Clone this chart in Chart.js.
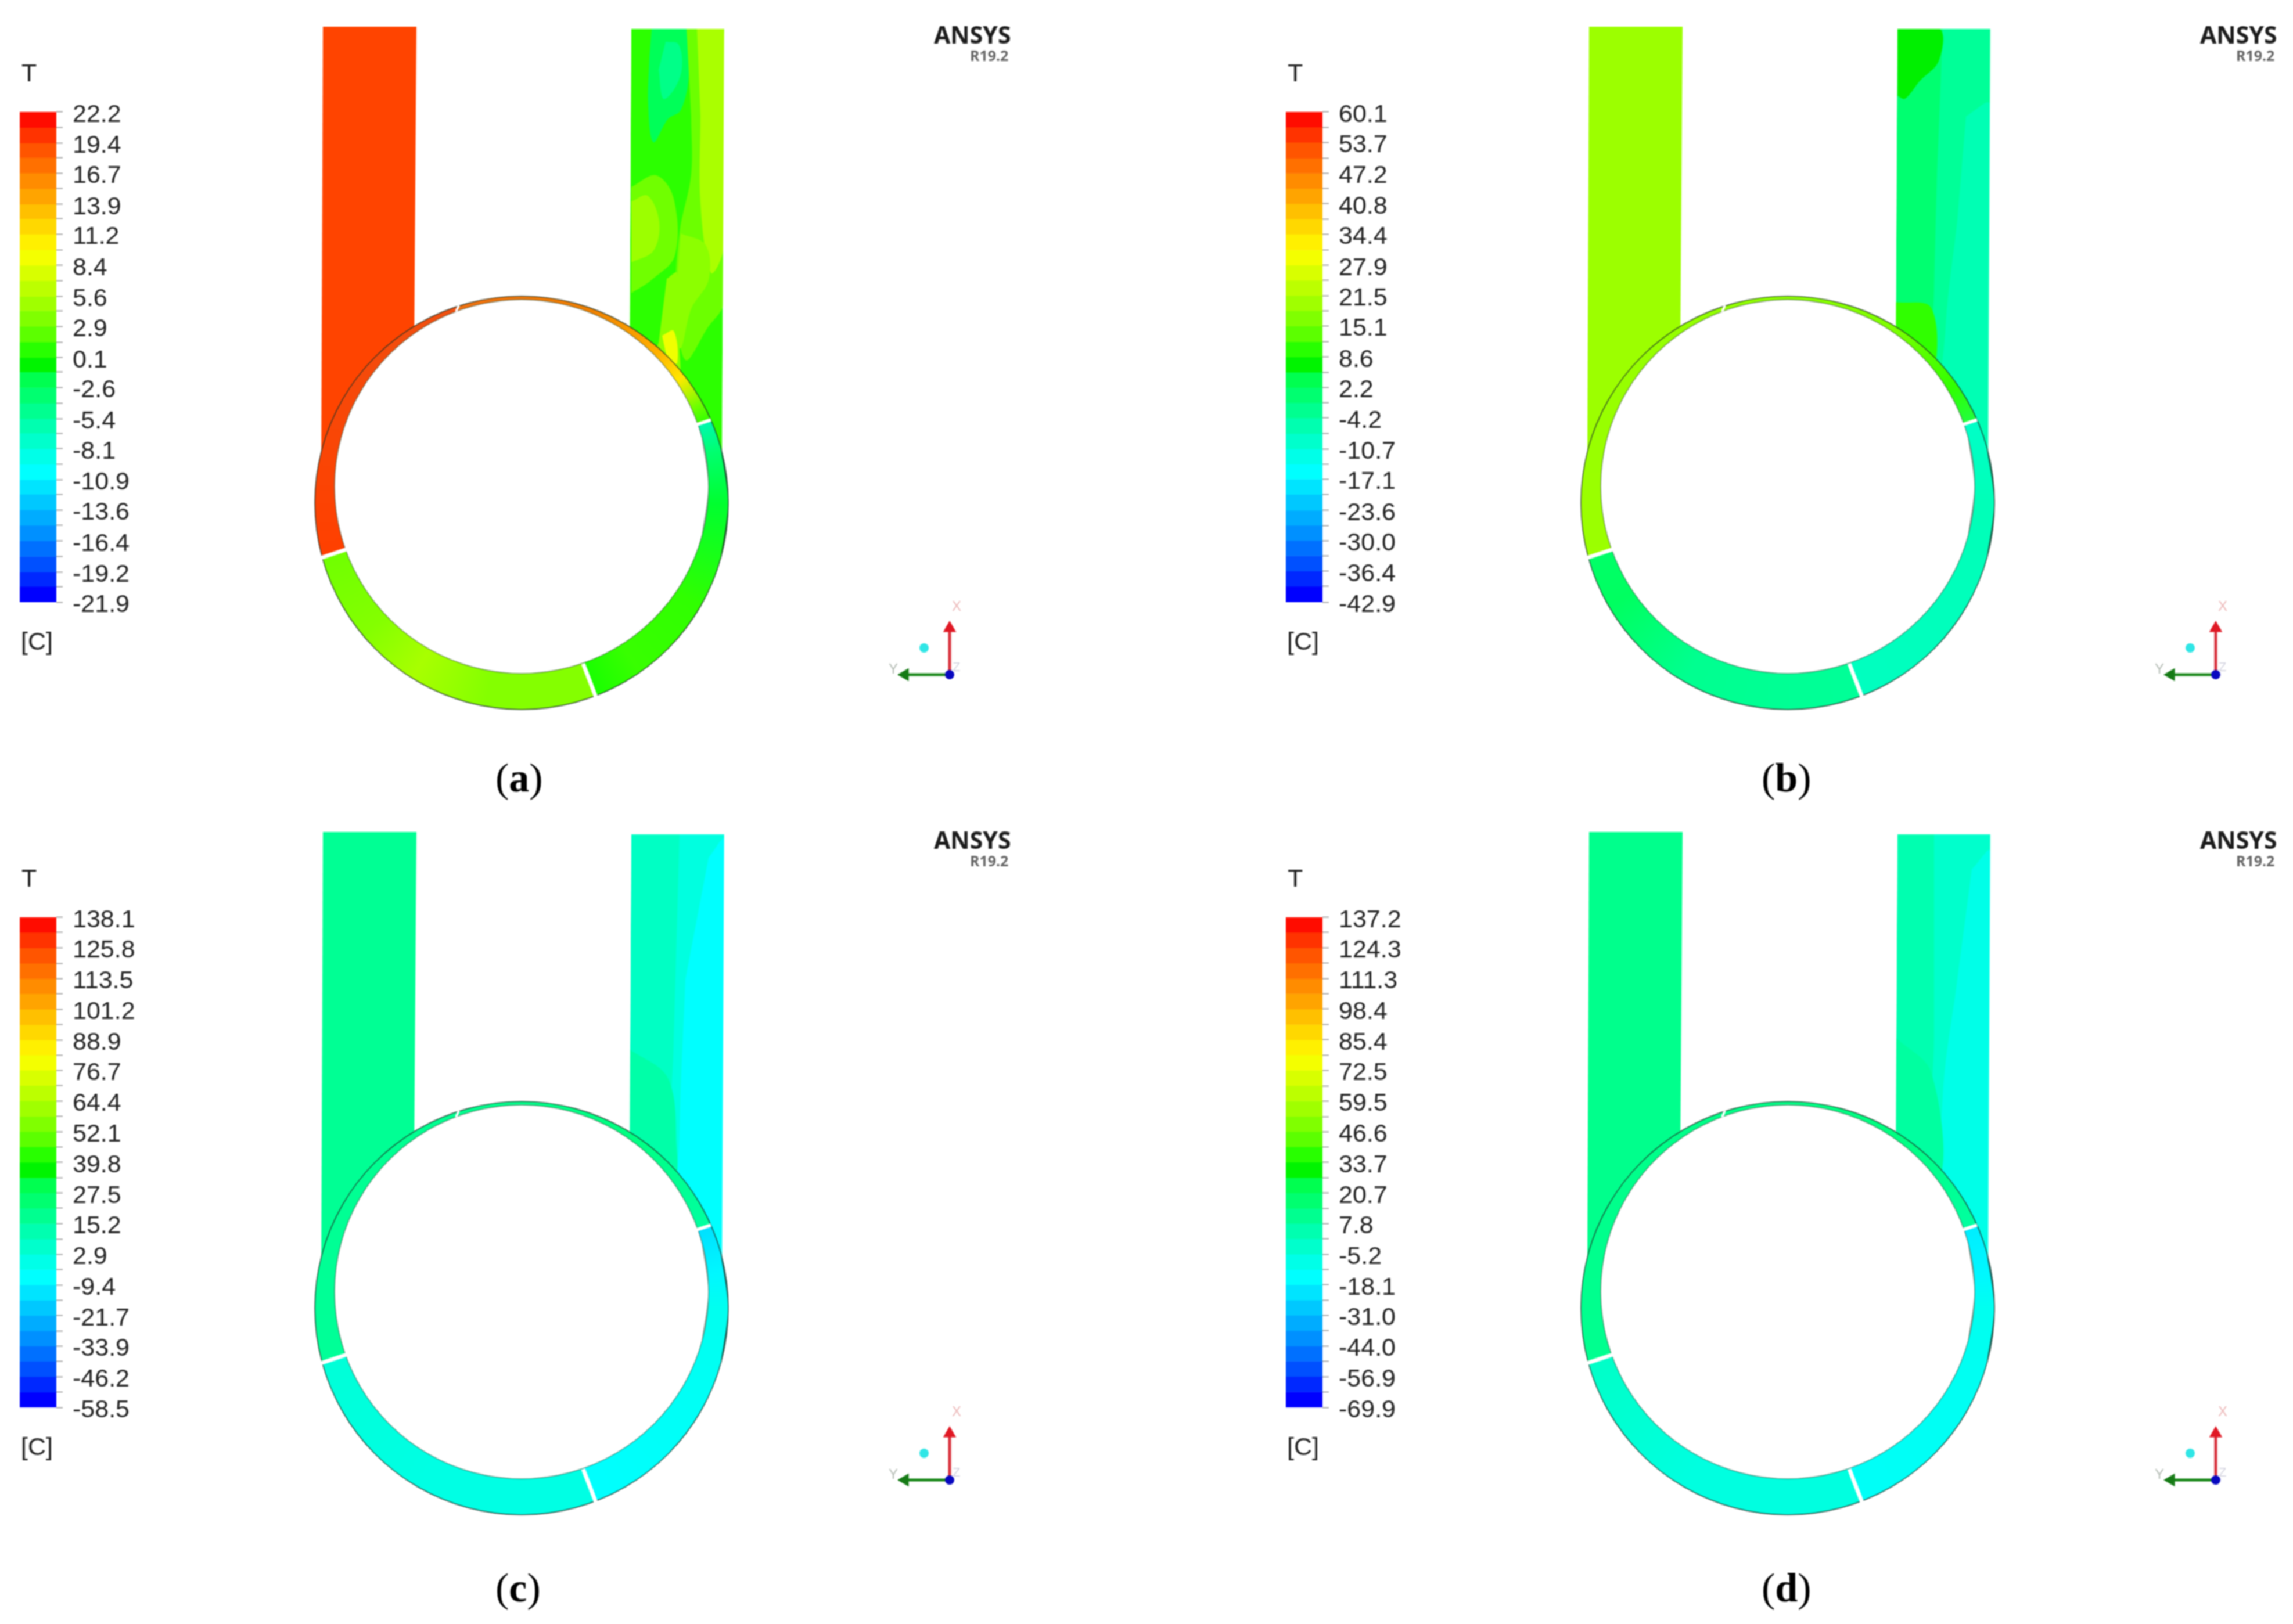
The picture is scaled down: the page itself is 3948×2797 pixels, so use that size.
<!DOCTYPE html>
<html><head><meta charset="utf-8">
<script src="https://cdn.jsdelivr.net/npm/chart.js@4"></script>
<style>
html,body{margin:0;padding:0;background:#fff;width:3948px;height:2797px;overflow:hidden}
canvas{position:absolute;filter:blur(1.3px)}
.t{position:absolute;white-space:nowrap;line-height:1;filter:blur(.9px)}
</style></head><body>
<script>
// Colour-bar boundaries read from the legends (top to bottom)
const levelsA=[22.2,20.8,19.4,18.1,16.7,15.3,13.9,12.6,11.2,9.8,8.4,7.0,5.6,4.3,2.9,1.5,0.1,-1.2,-2.6,-4.0,-5.4,-6.7,-8.1,-9.5,-10.9,-12.2,-13.6,-15.0,-16.4,-17.8,-19.2,-20.5,-21.9];
const levelsB=[60.1,56.9,53.7,50.4,47.2,44.0,40.8,37.6,34.4,31.1,27.9,24.7,21.5,18.3,15.1,11.8,8.6,5.4,2.2,-1.0,-4.2,-7.5,-10.7,-13.9,-17.1,-20.3,-23.6,-26.8,-30.0,-33.2,-36.4,-39.6,-42.9];
const levelsC=[138.1,132.0,125.8,119.6,113.5,107.4,101.2,95.0,88.9,82.8,76.7,70.6,64.4,58.2,52.1,46.0,39.8,33.6,27.5,21.4,15.2,9.0,2.9,-3.2,-9.4,-15.6,-21.7,-27.8,-33.9,-40.0,-46.2,-52.4,-58.5];
const levelsD=[137.2,130.8,124.3,117.8,111.3,104.9,98.4,91.9,85.4,79.0,72.5,66.0,59.5,53.0,46.6,40.2,33.7,27.2,20.7,14.2,7.8,1.3,-5.2,-11.7,-18.1,-24.6,-31.0,-37.5,-44.0,-50.4,-56.9,-63.4,-69.9];
const levelColors=["#ff0c00","#ff3300","#ff5500","#ff7000","#ff8c00","#ffa400","#ffc000","#ffd800","#fff000","#f4ff00","#d8ff00","#bcff00","#a0ff00","#80ff00","#5cff00","#28ff00","#00f400","#00ff50","#00ff70","#00ff90","#00ffb0","#00ffcc","#00ffe8","#00ffff","#00e4ff","#00c8ff","#00acff","#0090ff","#0070ff","#0050ff","#0028ff","#0000ff"];
const panelLabels=["a","b","c","d"];

// Outline of the duct walls
const leftDuct=[[556,46],[717,46],[713,600],[553,800]];
const rightDuct=[[1087,50],[1247,50],[1243,790],[1084,600]];
const ductMasks=[[[1247,0],[1768,0],[1768,800],[1243,800]],[[950,0],[1768,0],[1768,50],[950,50]],[[950,0],[1087,0],[1084,620],[950,620]]];
const rimX=[.9659,1,.9659,.866,.7071,.5,.2588,0,-.2588,-.5,-.7071,-.866,-.9659,-1,-.9659,-.866,-.7071,-.5,-.2588,0,.2588,.5,.7071,.866,.9659,1,.9659];
const rimY=[-.2588,0,.2588,.5,.7071,.866,.9659,1,.9659,.866,.7071,.5,.2588,0,-.2588,-.5,-.7071,-.866,-.9659,-1,-.9659,-.866,-.7071,-.5,-.2588,0,.2588];
const outerCircle=[898,866,356];
const innerCircle=[898,838,322];
const gapLines=[[[552,961],[597,946],7],[[1004,1143],[1027,1203],7],[[1197,732],[1224,723],6],[[785,537],[790,526],4]];

const leftColors=["#ff4400","#9cff00","#00ff94","#00ff8c"];
const rightBase=["#2cff00","#00ff70","#00ffc4","#00ffb0"];

// Temperature contour bands in the outlet duct
const contoursA=[
 ["#00ff58",[[1122,50],[1182,50],[1186,130],[1172,190],[1150,205],[1125,245],[1116,180],[1118,100]]],
 ["#00ff88",[[1146,72],[1168,76],[1174,118],[1160,155],[1142,170],[1134,120]]],
 ["#6cff00",[[1182,50],[1247,50],[1246,520],[1218,565],[1180,620],[1164,510],[1170,400],[1190,300],[1190,200]]],
 ["#aaff00",[[1200,50],[1246,50],[1245,430],[1224,470],[1206,350],[1206,200]]],
 ["#70ff00",[[1087,322],[1130,302],[1160,342],[1162,440],[1122,482],[1087,505]]],
 ["#9cff00",[[1087,347],[1115,337],[1135,382],[1125,432],[1087,452]]],
 ["#8cff00",[[1172,402],[1215,422],[1220,482],[1190,532],[1172,600],[1162,560],[1166,480]]],
 ["#8cff00",[[1148,480],[1166,470],[1170,600],[1168,650],[1128,610],[1134,590]]],
 ["#f0ff00",[[1140,578],[1160,570],[1166,625],[1150,625]]]
];
const contoursB=[
 ["#00ff98",[[1165,50],[1247,50],[1243,790],[1145,790],[1150,500],[1155,300]]],
 ["#00ffb4",[[1205,200],[1246,180],[1243,790],[1165,790],[1170,560],[1190,380]]],
 ["#00f000",[[1087,50],[1160,50],[1158,105],[1125,140],[1100,170],[1087,165]]],
 ["#30ff00",[[1084,520],[1145,530],[1150,640],[1120,620],[1084,565]]]
];
const contoursC=[
 ["#00ffe0",[[1170,50],[1247,50],[1243,790],[1155,790],[1160,400]]],
 ["#00ffff",[[1220,90],[1247,60],[1243,790],[1170,790],[1170,560],[1180,300]]],
 ["#00ffa8",[[1084,420],[1150,470],[1165,590],[1160,640],[1084,580]]]
];
const contoursD=[
 ["#00ffcc",[[1150,50],[1247,50],[1243,790],[1145,790],[1150,400]]],
 ["#00ffe8",[[1215,110],[1247,80],[1243,790],[1165,790],[1165,500],[1190,300]]],
 ["#00ffa0",[[1084,400],[1145,460],[1160,640],[1084,580]]]
];
// Ring colour by clockwise angle (degrees from east)
const ringStopsA=[[0,"#00ff30"],[30,"#30ff00"],[55,"#38ff00"],[69.1,"#18ff00"],[69.1,"#84ff00"],[100,"#84ff00"],[122,"#a8ff00"],[140,"#84ff00"],[164.7,"#70ff00"],[164.7,"#ff4000"],[252,"#f05010"],[252,"#f07010"],[290,"#f08000"],[312,"#ffb000"],[322,"#ffe800"],[331,"#70ff00"],[336.3,"#30ff00"],[336.3,"#00f8b0"],[345,"#00ff70"],[360,"#00ff30"]];
const ringStopsB=[[0,"#00ffb8"],[69.1,"#00ffc0"],[69.1,"#00ff98"],[120,"#00ff90"],[150,"#00ff60"],[164.7,"#00ff68"],[164.7,"#9cff00"],[252,"#94ff00"],[300,"#80ff00"],[325,"#30ff00"],[336.3,"#20ff40"],[336.3,"#00ffc8"],[360,"#00ffb8"]];
const ringStopsC=[[0,"#00fff0"],[69.1,"#00ffff"],[69.1,"#00ffe4"],[120,"#00ffe4"],[164.7,"#00ffd8"],[164.7,"#00ff98"],[252,"#00ff90"],[300,"#00ff80"],[336.3,"#00ffa0"],[336.3,"#00e0ff"],[350,"#00f8ff"],[360,"#00fff0"]];
const ringStopsD=[[0,"#00fff0"],[69.1,"#00fff8"],[69.1,"#00ffe0"],[120,"#00ffe0"],[164.7,"#00ffc8"],[164.7,"#00ff90"],[252,"#00ff88"],[300,"#00ff80"],[336.3,"#00ffa0"],[336.3,"#00eeff"],[350,"#00f8ff"],[360,"#00fff0"]];

// Axis triad
const triadX=[[1635,1162],[1635,1082]];
const triadY=[[1635,1162],[1558,1162]];
const triadOrigin=[[1635,1162]];
const triadSphere=[[1591,1116]];

const allLevels=[levelsA,levelsB,levelsC,levelsD];
const allContours=[contoursA,contoursB,contoursC,contoursD];
const allStops=[ringStopsA,ringStopsB,ringStopsC,ringStopsD];
const offsetsX=[0,2180,0,2180];
const offsetsY=[0,0,1387,1387];
const sansFont='"Liberation Sans",Arial,sans-serif';

const pts=a=>a.map(p=>({x:p[0],y:p[1]}));
const rim=c=>rimX.map((v,i)=>({x:c[0]+c[2]*v,y:c[1]+c[2]*rimY[i]}));

function addCanvas(left,top,w,h){
  const c=document.createElement('canvas');
  c.width=w;c.height=h;c.style.left=left+'px';c.style.top=top+'px';
  c.style.width=w+'px';c.style.height=h+'px';
  document.body.appendChild(c);return c.getContext('2d');
}
function addText(txt,x,y,css){
  const s=document.createElement('span');s.className='t';s.innerHTML=txt;
  s.style.cssText+=`left:${x}px;top:${y}px;`+css;document.body.appendChild(s);
}
function polygon(color,p,tension){
  return {data:pts(p),showLine:true,fill:'shape',backgroundColor:color,borderWidth:0,pointRadius:0,tension:tension};
}
function drawPanel(i){
  const ox=offsetsX[i],oy=offsetsY[i];
  const ds=[];
  ds.push(polygon(leftColors[i],leftDuct,0));
  ds.push(polygon(rightBase[i],rightDuct,0));
  allContours[i].forEach(c=>ds.push(polygon(c[0],c[1],.35)));
  ductMasks.forEach(m=>ds.push(polygon('#fff',m,0)));
  ds.push({data:rim(outerCircle),showLine:true,fill:'shape',borderWidth:0,pointRadius:0,tension:.338,
    backgroundColor:ctx=>{
      const ch=ctx.chart;if(!ch.chartArea)return '#0f0';
      const g=ch.ctx.createConicGradient(0,ch.scales.x.getPixelForValue(outerCircle[0]),ch.scales.y.getPixelForValue(outerCircle[1]));
      allStops[i].forEach(s=>g.addColorStop(s[0]/360,s[1]));
      return g;
    }});
  ds.push({data:rim(innerCircle),showLine:true,fill:'shape',backgroundColor:'#fff',borderColor:'rgba(40,70,50,.55)',borderWidth:1.5,pointRadius:0,tension:.338});
  ds.push({data:rim(outerCircle),showLine:true,fill:false,borderColor:'rgba(30,50,40,.8)',borderWidth:1.6,pointRadius:0,tension:.338});
  gapLines.forEach(g=>ds.push({data:pts([g[0],g[1]]),showLine:true,fill:false,borderColor:'#fff',borderWidth:g[2],pointRadius:0}));
  ds.push({data:pts(triadX),showLine:true,fill:false,borderColor:'#d8303c',borderWidth:5,pointRadius:[0,13],pointStyle:'triangle',pointBackgroundColor:'#e01824',pointBorderWidth:0});
  ds.push({data:pts(triadY),showLine:true,fill:false,borderColor:'#1e8a1e',borderWidth:5,pointRadius:[0,13],pointStyle:'triangle',pointRotation:-90,pointBackgroundColor:'#157a15',pointBorderWidth:0});
  ds.push({data:pts(triadOrigin),pointRadius:8,pointBackgroundColor:'#0808c0',pointBorderWidth:0});
  ds.push({data:pts(triadSphere),pointRadius:8,pointBackgroundColor:'#30e6e6',pointBorderWidth:0});
  ds.forEach((d,k)=>{d.order=-k;d.clip=false;});
  new Chart(addCanvas(ox,oy,1768,1387),{type:'scatter',data:{datasets:ds},options:{
    responsive:false,animation:false,devicePixelRatio:1,
    layout:{padding:0,autoPadding:false},
    plugins:{legend:{display:false},tooltip:{enabled:false}},
    scales:{x:{type:'linear',min:0,max:1768,display:false},y:{type:'linear',min:0,max:1387,reverse:true,display:false}}
  }});
  // colour bar
  const lev=allLevels[i];
  const bars=levelColors.map((c,k)=>({data:[[lev[k+1],lev[k]]],backgroundColor:c,borderWidth:0,barPercentage:1,categoryPercentage:1}));
  new Chart(addCanvas(ox,oy+150,330,930),{type:'bar',data:{labels:['T'],datasets:bars},options:{
    responsive:false,animation:false,devicePixelRatio:1,
    layout:{padding:{left:34,top:28,bottom:43,right:0},autoPadding:false},
    plugins:{legend:{display:false},tooltip:{enabled:false}},
    scales:{
      x:{stacked:true,display:false},
      y:{position:'right',min:lev[lev.length-1],max:lev[0],
        afterFit:s=>{s.width=233;},
        afterBuildTicks:s=>{s.ticks=lev.slice().reverse().map(v=>({value:v}));},
        grid:{drawOnChartArea:false,drawTicks:true,tickLength:11,color:'#8a8a8a',tickWidth:1.5},
        border:{display:false},
        ticks:{autoSkip:false,padding:17,labelOffset:5,color:'#222',font:{family:'"Liberation Sans"',size:43},
          callback:(v,k)=>k%2===0?Number(v).toFixed(1):''}
      }
    }
  }});
  addText('T',ox+37,oy+101,`font:43px ${sansFont};color:#222`);
  addText('[C]',ox+36,oy+1080,`font:43px ${sansFont};color:#222`);
  addText('ANSYS',ox+1608,oy+31,'font:700 41px "Noto Sans",sans-serif;color:#1c1c1c');
  addText('R19.2',ox+1670,oy+78,'font:700 25px "Noto Sans",sans-serif;color:#666');
  addText('X',ox+1639,oy+1030,`font:24px ${sansFont};color:#ecb8b8`);
  addText('Y',ox+1530,oy+1138,`font:24px ${sansFont};color:#b4bcb4`);
  addText('Z',ox+1640,oy+1136,`font:22px ${sansFont};color:#d4d4e0`);
  addText(`(<b>${panelLabels[i]}</b>)`,ox+853,oy+(i<2?1300:1308),'font:70px "Liberation Serif",serif;color:#000');
}
[0,1,2,3].forEach(drawPanel);
</script>
</body></html>
